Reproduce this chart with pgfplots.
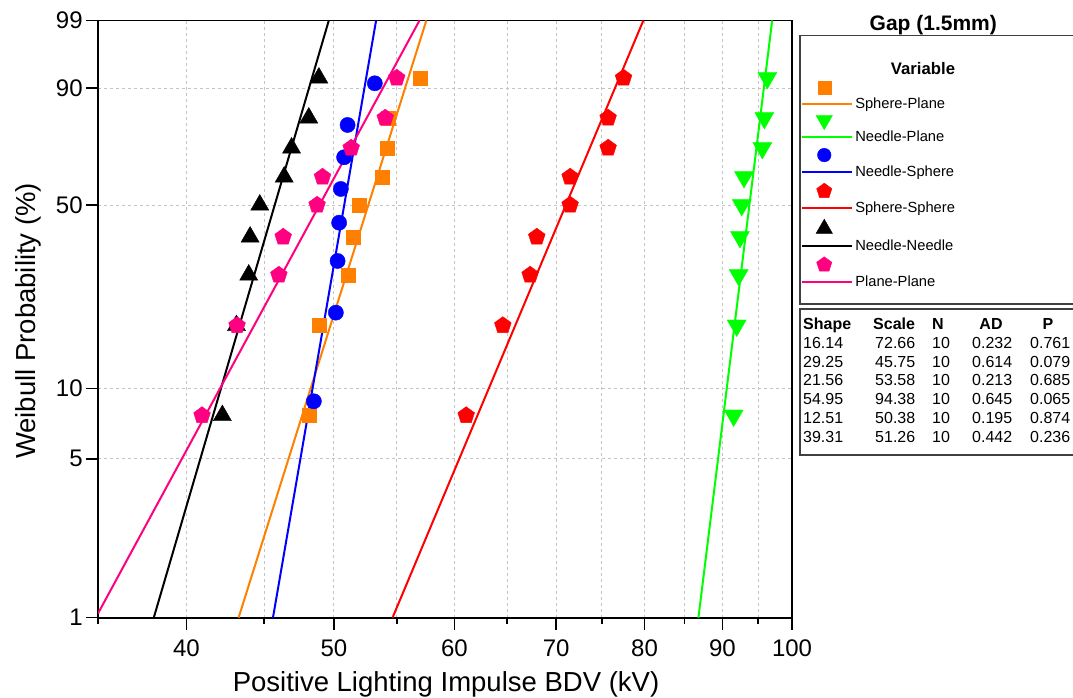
\documentclass[border=0pt]{standalone}
\usepackage{fontspec}
\setmainfont{Liberation Sans}
\usepackage{pgfplots}
\pgfplotsset{compat=1.18}
\definecolor{cOrange}{RGB}{255,128,0}
\definecolor{cGreen}{RGB}{0,255,0}
\definecolor{cBlue}{RGB}{0,0,255}
\definecolor{cRed}{RGB}{255,0,0}
\definecolor{cPink}{RGB}{255,0,128}
\definecolor{gridgray}{RGB}{195,195,195}
\begin{document}
\begin{tikzpicture}[x=1bp,y=1bp]
\useasboundingbox (0,0) rectangle (1073,698);
\begin{axis}[
  at={(98bp,80.3bp)}, anchor=south west,
  scale only axis, width=694bp, height=597.2bp,
  xmode=log, xmin=35, xmax=100,
  ymin=-4.60015, ymax=1.52718,
  xtick={40,50,60,70,80,90,100},
  xticklabels={40,50,60,70,80,90,100},
  minor xtick={35,45,55,65,75,85,95},
  ytick={-4.60015,-2.97020,-2.25037,-0.36651,0.83403,1.52718},
  yticklabels={1,5,10,50,90,99},
  tick pos=left,
  tick align=outside,
  major tick length=12bp, minor tick length=6bp,
  every tick/.style={black, line width=1.6bp},
  axis line style={line width=1.8bp},
  grid=both,
  major grid style={gridgray, dash pattern=on 3bp off 3bp, line width=0.8bp},
  minor grid style={gridgray, dash pattern=on 3bp off 3bp, line width=0.8bp},
  /pgf/number format/assume math mode=true,
  tick label style={font=\fontsize{24bp}{28bp}\selectfont},
  xticklabel style={yshift=-7bp},
  xlabel={Positive Lighting Impulse BDV (kV)},
  xlabel style={font=\fontsize{27.5bp}{32bp}\selectfont, at={(axis description cs:0.5014,-0.1244)}, anchor=base},
  ylabel={Weibull Probability (\%)},
  ylabel style={font=\fontsize{27.5bp}{32bp}\selectfont, at={(axis description cs:-0.1009,0.497)}, anchor=center},
  legend image code/.code={
    \draw[#1, mark=none] (0bp,0bp) -- (44bp,0bp);
    \draw[#1] plot coordinates {(22bp,17bp)};
    \path (0bp,0bp) -- (50bp,0bp);
  },
  legend style={at={(axis description cs:1.0130,0.8992)}, anchor=north west, draw=none, fill=none,
    font=\fontsize{14.7bp}{17bp}\selectfont, inner sep=0pt, row sep=3bp},
  legend cell align=left,
]
% legend images
\addlegendimage{cOrange, line width=2bp, mark=square*, mark size=6.5bp, mark options={line width=0.4bp}}
\addlegendentry{Sphere-Plane}
\addlegendimage{cGreen, line width=2bp, mark=triangle*, mark size=9.5bp, mark options={rotate=180, line width=0.4bp}}
\addlegendentry{Needle-Plane}
\addlegendimage{cBlue, line width=2bp, mark=*, mark size=6.8bp, mark options={line width=0.4bp}}
\addlegendentry{Needle-Sphere}
\addlegendimage{cRed, line width=2bp, mark=pentagon*, mark size=8bp, mark options={line width=0.4bp}}
\addlegendentry{Sphere-Sphere}
\addlegendimage{black, line width=2bp, mark=triangle*, mark size=9.5bp, mark options={line width=0.4bp}}
\addlegendentry{Needle-Needle}
\addlegendimage{cPink, line width=2bp, mark=pentagon*, mark size=8bp, mark options={line width=0.4bp}}
\addlegendentry{Plane-Plane}

% Sphere-Plane
\addplot[forget plot, only marks, cOrange, mark=square*, mark size=7bp, mark options={line width=0.4bp}] coordinates {
(48.16,-2.5254) (48.90,-1.6020) (51.12,-1.0839) (51.48,-0.6940) (51.95,-0.3657)
(53.79,-0.0784) (54.20,0.2191) (54.32,0.5269) (57.02,0.9373)};
\addplot[forget plot, cOrange, line width=2bp, mark=none] coordinates {(43.29,-4.60015) (57.51,1.52718)};
% Needle-Plane
\addplot[forget plot, only marks, cGreen, mark=triangle*, mark size=11bp, mark options={rotate=180, line width=0.4bp}] coordinates {
(91.55,-2.5254) (91.97,-1.6020) (92.25,-1.0839) (92.43,-0.6940) (92.67,-0.3657)
(92.99,-0.0784) (95.61,0.2191) (95.90,0.5269) (96.33,0.9373)};
\addplot[forget plot, cGreen, line width=2bp, mark=none] coordinates {(86.80,-4.60015) (97.04,1.52718)};
% Needle-Sphere
\addplot[forget plot, only marks, cBlue, mark=*, mark size=7.6bp, mark options={line width=0.4bp}] coordinates {
(48.51,-2.3797) (50.15,-1.4707) (50.28,-0.9403) (50.40,-0.5473) (50.53,-0.2016)
(50.78,0.1237) (51.05,0.4551) (53.20,0.8829)};
\addplot[forget plot, cBlue, line width=2bp, mark=none] coordinates {(45.60,-4.60015) (53.30,1.52718)};
% Sphere-Sphere
\addplot[forget plot, only marks, cRed, mark=pentagon*, mark size=8.8bp, mark options={line width=0.4bp}] coordinates {
(61.08,-2.5254) (64.57,-1.6020) (67.29,-1.0839) (67.97,-0.6940) (71.49,-0.3657)
(71.49,-0.0784) (75.72,0.2191) (75.72,0.5269) (77.51,0.9373)};
\addplot[forget plot, cRed, line width=2bp, mark=none] coordinates {(54.64,-4.60015) (79.87,1.52718)};
% Needle-Needle
\addplot[forget plot, only marks, black, mark=triangle*, mark size=10.5bp, mark options={line width=0.4bp}] coordinates {
(42.24,-2.5254) (43.15,-1.6020) (43.96,-1.0839) (44.05,-0.6940) (44.70,-0.3657)
(46.38,-0.0784) (46.90,0.2191) (48.14,0.5269) (48.88,0.9373)};
\addplot[forget plot, black, line width=2bp, mark=none] coordinates {(38.08,-4.60015) (49.62,1.52718)};
% Plane-Plane
\addplot[forget plot, only marks, cPink, mark=pentagon*, mark size=8.8bp, mark options={line width=0.4bp}] coordinates {
(40.96,-2.5254) (43.19,-1.6020) (46.01,-1.0839) (46.31,-0.6940) (48.75,-0.3657)
(49.15,-0.0784) (51.33,0.2191) (54.04,0.5269) (54.99,0.9373)};
\addplot[forget plot, cPink, line width=2bp, mark=none] coordinates {(35,-4.5565) (56.92,1.52718)};
\end{axis}
% titles and boxes
\node[font=\bfseries\fontsize{21bp}{24bp}\selectfont, anchor=base] at (933.3,667.5) {Gap (1.5mm)};
\draw[line width=1.2bp, black!75] (800,662.3) rectangle (1090,394);
\node[font=\bfseries\fontsize{16.7bp}{20bp}\selectfont, anchor=base] at (923,623) {Variable};
\draw[line width=1.2bp, black!75] (800,389) rectangle (1090,243);
\begin{scope}[every node/.style={font=\fontsize{16bp}{19bp}\selectfont, inner sep=0pt}]
\node[anchor=base west, font=\bfseries\fontsize{16bp}{19bp}\selectfont] at (803,368) {Shape};
\node[anchor=base west, font=\bfseries\fontsize{16bp}{19bp}\selectfont] at (873,368) {Scale};
\node[anchor=base west, font=\bfseries\fontsize{16bp}{19bp}\selectfont] at (932,368) {N};
\node[anchor=base, font=\bfseries\fontsize{16bp}{19bp}\selectfont] at (991,368) {AD};
\node[anchor=base, font=\bfseries\fontsize{16bp}{19bp}\selectfont] at (1048,368) {P};
\foreach \a/\b/\c/\d [count=\i from 0] in {16.14/72.66/0.232/0.761, 29.25/45.75/0.614/0.079, 21.56/53.58/0.213/0.685, 54.95/94.38/0.645/0.065, 12.51/50.38/0.195/0.874, 39.31/51.26/0.442/0.236}{
  \pgfmathsetmacro{\yy}{349.7-18.8*\i}
  \node[anchor=base west] at (803,\yy) {\a};
  \node[anchor=base west] at (875,\yy) {\b};
  \node[anchor=base west] at (932,\yy) {10};
  \node[anchor=base west] at (972,\yy) {\c};
  \node[anchor=base west] at (1030,\yy) {\d};
}
\end{scope}
\end{tikzpicture}
\end{document}
